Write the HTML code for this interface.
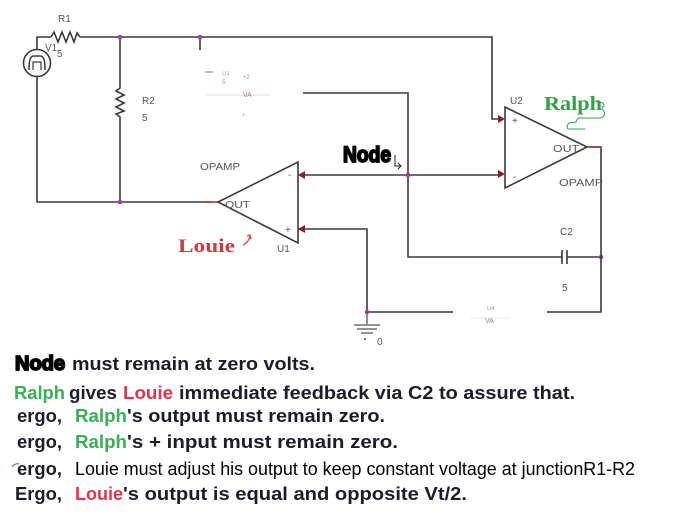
<!DOCTYPE html>
<html><head><meta charset="utf-8"><style>
html,body{margin:0;padding:0;background:#fff;}
svg{display:block;}
.w{stroke:#3a3a3a;stroke-width:1.6;fill:none;}
.lbl{font-family:"Liberation Sans",sans-serif;fill:#555;font-size:10px;}
.t{font-family:"Liberation Sans",sans-serif;font-weight:bold;font-size:18px;fill:#1c1c2a;}
.g{fill:#3cae55;}
.r{fill:#e0344e;}
</style></head><body>
<svg width="676" height="518" viewBox="0 0 676 518" xmlns="http://www.w3.org/2000/svg">
<rect width="676" height="518" fill="#fff"/>
<!-- left loop -->
<path class="w" d="M37,49 V37 H51"/>
<path class="w" d="M51,37 L54,32 L58,42 L62,32 L66,42 L70,32 L74,42 L77,33 L80,37"/>
<path class="w" d="M80,37 H492 V119 H500"/>
<path class="w" d="M37,77 V202 H212"/>
<path d="M205,202 H218" stroke="#b04040" stroke-width="1.6"/>
<circle cx="37" cy="63" r="13.5" fill="none" stroke="#3a3a3a" stroke-width="1.6"/>
<path d="M29,70 C29,58 31,56 34,56 L40,56 C43,56 45,58 45,70" fill="none" stroke="#3a3a3a" stroke-width="1.5"/>
<path d="M33,70 V62 H41 V70" fill="none" stroke="#3a3a3a" stroke-width="1.2"/>
<!-- R2 -->
<path class="w" d="M120,37 V88 L116,91 L124,95 L116,99 L124,103 L116,107 L124,111 L116,114 L120,117 V202"/>
<path class="w" d="M200,37 V50"/>
<circle cx="120" cy="37" r="2.3" fill="#9b3f9b"/>
<circle cx="200" cy="37" r="2.3" fill="#9b3f9b"/>
<circle cx="120" cy="202" r="2.3" fill="#9b3f9b"/>
<!-- faint component top middle -->
<g opacity="0.55">
<path d="M205,72 H213" stroke="#333" stroke-width="1.2"/>
<path d="M206,95 H270" stroke="#f0b0b8" stroke-width="1"/>
<text x="222" y="75" font-family="Liberation Sans" font-size="6" fill="#444">U1</text>
<text x="222" y="84" font-family="Liberation Sans" font-size="6" fill="#444">5</text>
<text x="243" y="79" font-family="Liberation Sans" font-size="6" fill="#444">+2</text>
<text x="243" y="97" font-family="Liberation Sans" font-size="7" fill="#222">VA</text>
<text x="242" y="117" font-family="Liberation Sans" font-size="6" fill="#444">+</text>
</g>
<!-- Node wires -->
<path class="w" d="M303,93 H408 V257 H562"/>
<path d="M562,250 V264 M567,250 V264" stroke="#3a3a3a" stroke-width="1.6"/>
<path class="w" d="M567,257 H601"/>
<path class="w" d="M408,175 H300"/>
<path class="w" d="M408,175 H500"/>
<circle cx="408" cy="175" r="2.3" fill="#9b3f9b"/>
<circle cx="601" cy="257" r="2.3" fill="#9b3f9b"/>
<!-- U1 -->
<path class="w" d="M298,162 V243 L218,202 Z"/>
<path class="w" d="M298,229 H367 V312 H453"/>
<path class="w" d="M547,312 H601 V147 H587"/>
<path d="M298,175 L305,171 L305,179 Z" fill="#8a2020"/>
<path d="M298,229 L305,225 L305,233 Z" fill="#8a2020"/>
<circle cx="367" cy="312" r="2.3" fill="#9b3f9b"/>
<!-- ground -->
<path d="M367,312 V324 M354,325 H380 M357,329 H377 M361,333 H373" stroke="#555" stroke-width="1.3"/>
<text x="377" y="345" class="lbl" font-size="11">0</text>
<circle cx="365" cy="339" r="1" fill="#444"/>
<!-- faint bottom component -->
<g opacity="0.55">
<path d="M470,318 H510" stroke="#ddd" stroke-width="1"/>
<text x="487" y="310" font-family="Liberation Sans" font-size="6" fill="#444">U4</text>
<text x="485" y="323" font-family="Liberation Sans" font-size="7" fill="#222">VA</text>
</g>
<!-- U2 -->
<path class="w" d="M505,107 V188 L587,147 Z"/>
<path d="M505,119 L498,115 L498,123 Z" fill="#8a2020"/>
<path d="M505,174 L498,170 L498,178 Z" fill="#8a2020"/>
<path d="M587,147 H601" stroke="#a04040" stroke-width="1.6"/>
<!-- labels -->
<text x="58" y="22" class="lbl" font-size="11">R1</text>
<text x="45" y="51" class="lbl" font-size="11">V1</text>
<text x="57" y="57" class="lbl" font-size="11">5</text>
<text x="142" y="104" class="lbl" font-size="11">R2</text>
<text x="142" y="121" class="lbl" font-size="11">5</text>
<text x="200" y="170" class="lbl" textLength="40" lengthAdjust="spacingAndGlyphs">OPAMP</text>
<text x="225" y="208" class="lbl" font-size="11" textLength="25" lengthAdjust="spacingAndGlyphs">OUT</text>
<text x="288" y="178" class="lbl">-</text>
<text x="285" y="233" class="lbl">+</text>
<text x="277" y="252" class="lbl">U1</text>
<text x="510" y="104" class="lbl" font-size="11">U2</text>
<text x="512" y="124" class="lbl">+</text>
<text x="513" y="180" class="lbl">-</text>
<text x="553" y="152" class="lbl" font-size="11" textLength="26" lengthAdjust="spacingAndGlyphs">OUT</text>
<text x="559" y="186" class="lbl" textLength="44" lengthAdjust="spacingAndGlyphs">OPAMP</text>
<text x="560" y="235" class="lbl">C2</text>
<text x="562" y="291" class="lbl">5</text>
<text x="343" y="162" font-family="Liberation Sans" font-weight="bold" font-size="22" fill="#000" stroke="#000" stroke-width="1.8" textLength="48" lengthAdjust="spacingAndGlyphs">Node</text>
<path d="M395,155 V166 H401 M398,163 L401,166 L398,169" fill="none" stroke="#222" stroke-width="1"/>
<text x="544" y="110" font-family="Liberation Serif" font-weight="bold" font-size="20" fill="#34a048" textLength="58" lengthAdjust="spacingAndGlyphs">Ralph</text>
<path d="M598,102 Q604,102 604,106 Q600,108 604,111 Q606,117 600,118 H580 Q577,118 576,122 L569,123 Q566,126 568,129 H585" fill="none" stroke="#3aa050" stroke-width="1"/>
<text x="178" y="252" font-family="Liberation Serif" font-weight="bold" font-size="19" fill="#d03a3a" textLength="57" lengthAdjust="spacingAndGlyphs">Louie</text>
<path d="M243,245 Q249,242 250,236 M247,236 L250,235 L251,239" fill="none" stroke="#d03a3a" stroke-width="1.2"/>
<!-- bottom text -->
<text x="15" y="370" font-family="Liberation Sans" font-weight="bold" font-size="20" fill="#000" stroke="#000" stroke-width="1.8" textLength="50" lengthAdjust="spacingAndGlyphs">Node</text>
<text x="72" y="370" class="t" textLength="243" lengthAdjust="spacingAndGlyphs">must remain at zero volts.</text>

<text x="14" y="399" class="t g" textLength="51" lengthAdjust="spacingAndGlyphs" font-weight="normal">Ralph</text>
<text x="69" y="399" class="t" textLength="48" lengthAdjust="spacingAndGlyphs">gives</text>
<text x="123" y="399" class="t r" textLength="50" lengthAdjust="spacingAndGlyphs" font-weight="normal">Louie</text>
<text x="179" y="399" class="t" textLength="396" lengthAdjust="spacingAndGlyphs">immediate feedback via C2 to assure that.</text>

<text x="17" y="422" class="t" textLength="45" lengthAdjust="spacingAndGlyphs">ergo,</text>
<text x="75" y="422" class="t g" textLength="52" lengthAdjust="spacingAndGlyphs" font-weight="normal">Ralph</text>
<text x="127" y="422" class="t" textLength="258" lengthAdjust="spacingAndGlyphs">'s output must remain zero.</text>

<text x="17" y="448" class="t" textLength="45" lengthAdjust="spacingAndGlyphs">ergo,</text>
<text x="75" y="448" class="t g" textLength="52" lengthAdjust="spacingAndGlyphs" font-weight="normal">Ralph</text>
<text x="127" y="448" class="t" textLength="271" lengthAdjust="spacingAndGlyphs">'s + input  must  remain zero.</text>

<path d="M12,467 Q15,463 19,464" fill="none" stroke="#c03030" stroke-width="1"/>
<text x="17" y="475" class="t" textLength="45" lengthAdjust="spacingAndGlyphs">ergo,</text>
<text x="75" y="475" font-family="Liberation Sans" font-size="18" fill="#000" textLength="560" lengthAdjust="spacingAndGlyphs">Louie must adjust his output to keep constant voltage at junctionR1-R2</text>

<text x="15" y="500" class="t" textLength="47" lengthAdjust="spacingAndGlyphs">Ergo,</text>
<text x="75" y="500" class="t r" textLength="48" lengthAdjust="spacingAndGlyphs" font-weight="normal">Louie</text>
<text x="123" y="500" class="t" textLength="344" lengthAdjust="spacingAndGlyphs">'s output is equal and opposite Vt/2.</text>
</svg>
</body></html>
